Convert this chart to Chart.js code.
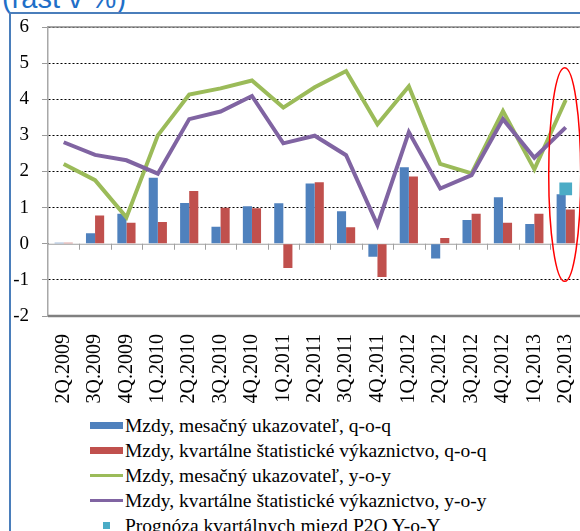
<!DOCTYPE html>
<html>
<head>
<meta charset="utf-8">
<script src="https://cdn.jsdelivr.net/npm/chart.js@4"></script>
<style>
  html, body { margin: 0; padding: 0; background: #fff; width: 580px; height: 531px; overflow: hidden; }
  #wrap { position: relative; width: 580px; height: 531px; overflow: hidden; }
  #title { position: absolute; left: 2px; top: -18px; font-family: "Liberation Sans", Arial, sans-serif; font-size: 29px; line-height: 32px; color: #1f6fc8; white-space: nowrap; }
  #frame { position: absolute; left: 9px; top: 12px; width: 640px; height: 600px; border-left: 2px solid #4a7ebb; border-top: 2px solid #4a7ebb; }
  #chart { position: absolute; left: 0; top: 0; }
  #legend { position: absolute; left: 90px; top: 413px; font-family: "Liberation Serif", "Times New Roman", serif; font-size: 19.5px; color: #000; }
  .row { height: 25px; line-height: 25px; white-space: nowrap; display: flex; align-items: center; }
  .sw { width: 33px; height: 25px; position: relative; margin-right: 2px; flex: none; }
  .sw span { position: absolute; }
</style>
</head>
<body>
<div id="wrap">
  <div id="title">(rast v %)</div>
  <div id="frame"></div>
  <canvas id="chart" width="600" height="410"></canvas>
  <div id="legend"></div>
</div>
<script>

// quarters on the x axis
let quarters = [
    "2Q.2009", "3Q.2009", "4Q.2009",
    "1Q.2010", "2Q.2010", "3Q.2010", "4Q.2010",
    "1Q.2011", "2Q.2011", "3Q.2011", "4Q.2011",
    "1Q.2012", "2Q.2012", "3Q.2012", "4Q.2012",
    "1Q.2013", "2Q.2013"
];

// q-o-q bars
let monthlyQoQ = [0.03, 0.29, 0.83, 1.83, 1.13, 0.47, 1.04, 1.12, 1.67, 0.9, -0.36, 2.12, -0.41, 0.66, 1.29, 0.55, 1.37];
let quarterlyQoQ = [0.03, 0.78, 0.58, 0.6, 1.46, 1.0, 0.98, -0.67, 1.7, 0.46, -0.92, 1.86, 0.16, 0.83, 0.58, 0.83, 0.95];

// y-o-y lines
let monthlyYoY = [2.21, 1.76, 0.73, 3.0, 4.13, 4.3, 4.52, 3.77, 4.33, 4.78, 3.31, 4.36, 2.21, 1.95, 3.67, 2.06, 3.98];
let quarterlyYoY = [2.81, 2.46, 2.31, 1.94, 3.45, 3.66, 4.09, 2.78, 2.99, 2.45, 0.52, 3.09, 1.53, 1.9, 3.45, 2.38, 3.22];

// forecast point (only last quarter)
let forecastYoY = [null, null, null, null, null, null, null, null, null, null, null, null, null, null, null, null, 1.52];

let yTicks = [-2, -1, 0, 1, 2, 3, 4, 5, 6];

let seriesNames = [
    "Mzdy, mesačný ukazovateľ, q-o-q",
    "Mzdy, kvartálne štatistické výkaznictvo, q-o-q",
    "Mzdy, mesačný ukazovateľ, y-o-y",
    "Mzdy, kvartálne štatistické výkaznictvo, y-o-y",
    "Prognóza kvartálnych miezd P2Q Y-o-Y"
];

const blue = "#4f81bd";
const red = "#c0504d";
const green = "#9bbb59";
const purple = "#8064a2";
const teal = "#4bacc6";

// solid frame lines, zero line, category ticks and the red ellipse
const extras = {
    id: "extras",
    beforeDatasetsDraw(chart) {
        const ctx = chart.ctx;
        const a = chart.chartArea;
        const y = chart.scales.y;
        ctx.save();

        ctx.strokeStyle = "#8a8a8a";
        ctx.lineWidth = 1.5;
        ctx.beginPath();
        ctx.moveTo(a.left, y.getPixelForValue(6));
        ctx.lineTo(a.right, y.getPixelForValue(6));
        ctx.stroke();

        ctx.lineWidth = 2.5;
        ctx.strokeStyle = "#808080";
        ctx.beginPath();
        ctx.moveTo(a.left, y.getPixelForValue(-2));
        ctx.lineTo(a.right, y.getPixelForValue(-2));
        ctx.stroke();

        let y0 = y.getPixelForValue(0);
        ctx.lineWidth = 1;
        ctx.strokeStyle = "#a0a0a0";
        ctx.fillStyle = "#fff";
        ctx.fillRect(a.left + 1, y0 - 1.5, a.right - a.left, 3);
        ctx.beginPath();
        ctx.moveTo(a.left, y0 + 0.5);
        ctx.lineTo(a.right, y0 + 0.5);
        let w = (a.right - a.left) / quarters.length;
        for (let i = 1; i < quarters.length; i++) {
            let px = Math.round(a.left + i * w) + 0.5;
            ctx.moveTo(px, y0);
            ctx.lineTo(px, y0 + 6);
        }
        ctx.stroke();
        ctx.restore();
    },
    afterDatasetsDraw(chart) {
        const ctx = chart.ctx;
        const y = chart.scales.y;
        const x = chart.scales.x;
        let cx = x.getPixelForValue(quarters.length - 1) - 1;
        let top = y.getPixelForValue(4.87);
        let bottom = y.getPixelForValue(-1.04);
        ctx.save();
        ctx.strokeStyle = "#ff0000";
        ctx.lineWidth = 1.5;
        ctx.beginPath();
        ctx.ellipse(cx, (top + bottom) / 2, 16, (bottom - top) / 2, 0, 0, Math.PI * 2);
        ctx.stroke();
        ctx.restore();
    }
};

new Chart(document.getElementById("chart"), {

    type: "bar",

    data: {

        labels: quarters,

        datasets: [

            {
                type: "line",
                label: seriesNames[4],
                data: forecastYoY,
                showLine: false,
                pointStyle: "rect",
                pointRadius: 9,
                backgroundColor: teal,
                borderColor: teal,
                borderWidth: 0,
                order: 0
            },

            {
                type: "line",
                label: seriesNames[3],
                data: quarterlyYoY,
                borderColor: purple,
                borderWidth: 4,
                pointRadius: 0,
                tension: 0,
                order: 1
            },

            {
                type: "line",
                label: seriesNames[2],
                data: monthlyYoY,
                borderColor: green,
                borderWidth: 4,
                pointRadius: 0,
                tension: 0,
                order: 2
            },

            {
                label: seriesNames[0],
                data: monthlyQoQ,
                backgroundColor: blue,
                categoryPercentage: 0.58,
                barPercentage: 1.0,
                order: 3
            },

            {
                label: seriesNames[1],
                data: quarterlyQoQ,
                backgroundColor: red,
                categoryPercentage: 0.58,
                barPercentage: 1.0,
                order: 3
            }

        ]
    },

    options: {

        responsive: false,
        animation: false,

        layout: {
            padding: { top: 27, right: 9.4, left: 0, bottom: 0 }
        },

        plugins: {
            legend: { display: false },
            tooltip: { enabled: false }
        },

        scales: {

            x: {
                offset: true,
                grid: { display: false, offset: true },
                border: { display: false },
                ticks: {
                    color: "#000",
                    minRotation: 90,
                    maxRotation: 90,
                    padding: 10,
                    font: { family: "Liberation Serif", size: 20 }
                },
                afterFit(scale) {
                    scale.height = 94;
                }
            },

            y: {
                min: -2,
                max: 6,
                afterBuildTicks(scale) {
                    scale.ticks = yTicks.map(v => ({ value: v }));
                },
                grid: {
                    color: "#000",
                    lineWidth: 1,
                    tickLength: 6,
                    tickColor: "#9a9a9a"
                },
                border: {
                    color: "#a8a8a8",
                    width: 1.5,
                    dash: [2, 2]
                },
                ticks: {
                    color: "#000",
                    padding: 13,
                    font: { family: "Liberation Serif", size: 19 }
                },
                afterFit(scale) {
                    scale.width = 48;
                }
            }

        }
    },

    plugins: [extras]
});

// legend in the order of the original
let legendItems = [
    { name: seriesNames[0], kind: "bar", color: blue },
    { name: seriesNames[1], kind: "bar", color: red },
    { name: seriesNames[2], kind: "line", color: green },
    { name: seriesNames[3], kind: "line", color: purple },
    { name: seriesNames[4], kind: "dot", color: teal }
];

let html = "";
legendItems.forEach(it => {
    let mark = "";
    if (it.kind === "bar") mark = `<span style="left:0;top:9px;width:33px;height:7px;background:${it.color}"></span>`;
    if (it.kind === "line") mark = `<span style="left:0;top:11px;width:33px;height:3px;background:${it.color}"></span>`;
    if (it.kind === "dot") mark = `<span style="left:13px;top:9px;width:7px;height:7px;background:${it.color}"></span>`;
    html += `<div class="row"><div class="sw">${mark}</div><div>${it.name}</div></div>`;
});
document.getElementById("legend").innerHTML = html;

</script>
</body>
</html>
